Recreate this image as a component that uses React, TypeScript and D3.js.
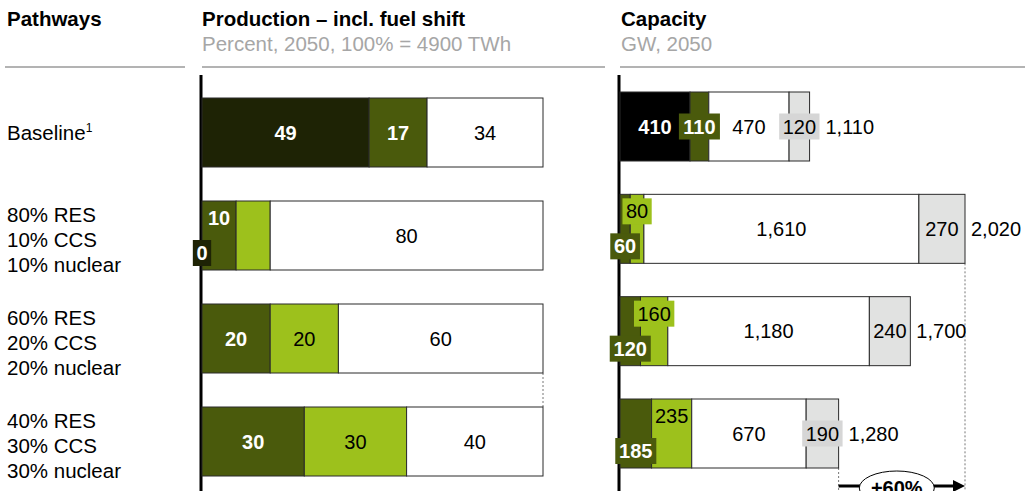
import React from "react";
import * as d3 from "d3";

// ---------- data ----------
const pathways: string[][] = [
  ["Baseline"],
  ["80% RES", "10% CCS", "10% nuclear"],
  ["60% RES", "20% CCS", "20% nuclear"],
  ["40% RES", "30% CCS", "30% nuclear"],
];

// Production, percent of 4900 TWh
const prodFossil: (number | null)[] = [49, 0, null, null];
const prodDarkGreen: (number | null)[] = [17, 10, 20, 30];
const prodLime: (number | null)[] = [null, 10, 20, 30];
const prodWhite: (number | null)[] = [34, 80, 60, 40];
const prodLimeLabelShown: boolean[] = [false, false, true, true];

// Capacity, GW
const capFossil: number[] = [410, 0, 0, 0];
const capDarkGreen: number[] = [110, 60, 120, 185];
const capLime: number[] = [0, 80, 160, 235];
const capWhite: number[] = [470, 1610, 1180, 670];
const capGray: number[] = [120, 270, 240, 190];
const capTotal: number[] = [1110, 2020, 1700, 1280];
const growthLabel = "+60%";

const titles = {
  pathways: "Pathways",
  production: "Production – incl. fuel shift",
  productionSub: "Percent, 2050, 100% = 4900 TWh",
  capacity: "Capacity",
  capacitySub: "GW, 2050",
};

// ---------- style ----------
const FONT = "'Liberation Sans', Arial, Helvetica, sans-serif";
const FS = 20;
const C = {
  fossilProd: "#1e2305",
  fossilCap: "#000000",
  dark: "#4a5a0c",
  lime: "#9dc11c",
  white: "#ffffff",
  gray: "#e1e2e1",
  grayBox: "#d6d6d6",
  stroke: "#2a2a2a",
  rule: "#b3b3b3",
  sub: "#a6a6a6",
};

const fmt = d3.format(",");
const textW = (s: string, bold: boolean) => {
  let w = 0;
  for (const ch of s) w += ch === "," ? 0.278 : ch === "%" ? 0.889 : 0.556;
  return w * FS * (bold ? 1.02 : 1);
};

type Seg = {
  key: string;
  v: number;
  fill: string;
  label: string;
  bold: boolean;
  textFill: string;
  box: string;
  show: boolean;
};

type Placed = { s: Seg; x0: number; x1: number; cx: number; cy: number; needBox: boolean; bw: number };

export default function App() {
  const W = 1027;
  const H = 491;
  const xProd = d3.scaleLinear().domain([0, 100]).range([202, 543]);
  const xCap = d3.scaleLinear().domain([0, 2020]).range([620, 965]);
  const yProd = d3.scaleLinear().domain([0, 3]).range([98, 407]);
  const yCap = d3.scaleLinear().domain([0, 3]).range([92, 399]);
  const bh = 69;
  const rows = d3.range(pathways.length);

  const prodRows: Seg[][] = rows.map((i) => {
    const segs: Seg[] = [];
    if (prodFossil[i] !== null)
      segs.push({ key: "fossil", v: prodFossil[i] as number, fill: C.fossilProd, label: String(prodFossil[i]), bold: true, textFill: "#fff", box: C.fossilProd, show: true });
    if (prodDarkGreen[i] !== null)
      segs.push({ key: "dark", v: prodDarkGreen[i] as number, fill: C.dark, label: String(prodDarkGreen[i]), bold: true, textFill: "#fff", box: C.dark, show: true });
    if (prodLime[i] !== null)
      segs.push({ key: "lime", v: prodLime[i] as number, fill: C.lime, label: String(prodLime[i]), bold: false, textFill: "#000", box: C.lime, show: prodLimeLabelShown[i] });
    if (prodWhite[i] !== null)
      segs.push({ key: "white", v: prodWhite[i] as number, fill: C.white, label: String(prodWhite[i]), bold: false, textFill: "#000", box: C.white, show: true });
    return segs;
  });

  const capRows: Seg[][] = rows.map((i) => {
    const segs: Seg[] = [];
    if (capFossil[i] > 0)
      segs.push({ key: "fossil", v: capFossil[i], fill: C.fossilCap, label: fmt(capFossil[i]), bold: true, textFill: "#fff", box: C.fossilCap, show: true });
    segs.push({ key: "dark", v: capDarkGreen[i], fill: C.dark, label: fmt(capDarkGreen[i]), bold: true, textFill: "#fff", box: C.dark, show: capDarkGreen[i] > 0 });
    segs.push({ key: "lime", v: capLime[i], fill: C.lime, label: fmt(capLime[i]), bold: false, textFill: "#000", box: C.lime, show: capLime[i] > 0 });
    segs.push({ key: "white", v: capWhite[i], fill: C.white, label: fmt(capWhite[i]), bold: false, textFill: "#000", box: C.white, show: true });
    segs.push({ key: "gray", v: capGray[i], fill: C.gray, label: fmt(capGray[i]), bold: false, textFill: "#000", box: C.grayBox, show: true });
    return segs;
  });

  const place = (
    segs: Seg[],
    x: d3.ScaleLinear<number, number>,
    top: number,
    stagger: (s: Seg) => "top" | "bottom" | "mid"
  ): Placed[] => {
    let acc = 0;
    return segs.map((s) => {
      const x0 = x(acc);
      acc += s.v;
      const x1 = x(acc);
      const pos = stagger(s);
      const cy = pos === "top" ? top + 17 : pos === "bottom" ? top + 52 : top + bh / 2;
      const tw = textW(s.label, s.bold);
      return { s, x0, x1, cx: (x0 + x1) / 2, cy, needBox: s.show && tw + 4 > x1 - x0, bw: tw + 7 };
    });
  };

  const renderBar = (placed: Placed[], top: number, keyPrefix: string) => (
    <g key={keyPrefix}>
      {placed.map(({ s, x0, x1 }) =>
        s.v > 0 ? (
          <rect key={"r" + s.key} x={x0} y={top} width={x1 - x0} height={bh} fill={s.fill} stroke={C.stroke} strokeWidth={1} />
        ) : null
      )}
      {placed.map(({ s, cx, cy, needBox, bw }) =>
        s.show ? (
          <g key={"l" + s.key}>
            {needBox && <rect x={cx - bw / 2} y={cy - 13} width={bw} height={26} fill={s.box} />}
            <text x={cx} y={cy + 7} textAnchor="middle" fontSize={FS} fontWeight={s.bold ? "bold" : "normal"} fill={s.textFill}>
              {s.label}
            </text>
          </g>
        ) : null
      )}
    </g>
  );

  const arrowY = 486;
  const xa = xCap(capTotal[3]);
  const xb = xCap(capTotal[1]);
  const ex = (xa + xb - 10) / 2;

  return (
    <svg width={W} height={H} style={{ position: "absolute", left: 0, top: 0, background: "#fff" }} fontFamily={FONT}>
      {/* headers */}
      <text x={7} y={26} fontSize={20.5} fontWeight="bold">{titles.pathways}</text>
      <text x={202} y={26} fontSize={20.5} fontWeight="bold">{titles.production}</text>
      <text x={202} y={51} fontSize={20.5} fill={C.sub}>{titles.productionSub}</text>
      <text x={621} y={26} fontSize={20.5} fontWeight="bold">{titles.capacity}</text>
      <text x={621} y={51} fontSize={20.5} fill={C.sub}>{titles.capacitySub}</text>
      <line x1={5} x2={185} y1={67} y2={67} stroke={C.rule} strokeWidth={2} />
      <line x1={202} x2={605} y1={67} y2={67} stroke={C.rule} strokeWidth={2} />
      <line x1={620} x2={1025} y1={67} y2={67} stroke={C.rule} strokeWidth={2} />

      {/* pathway labels */}
      {rows.map((i) => {
        const center = yProd(i) + bh / 2 + (pathways[i].length > 1 ? 4 : 0);
        const n = pathways[i].length;
        return (
          <g key={"pl" + i}>
            {pathways[i].map((line, j) => (
              <text key={j} x={7} y={center + (j - (n - 1) / 2) * 25 + 7} fontSize={20.5}>
                {line}
                {i === 0 && <tspan fontSize={12} dy={-8}>1</tspan>}
              </text>
            ))}
          </g>
        );
      })}

      {/* axes (behind the label boxes) */}
      <line x1={201} x2={201} y1={75} y2={H} stroke="#000" strokeWidth={3} />
      <line x1={619} x2={619} y1={75} y2={H} stroke="#000" strokeWidth={3} />

      {/* production dotted connector */}
      <line x1={xProd(100)} x2={xProd(100)} y1={yProd(2) + bh} y2={yProd(3)} stroke="#777" strokeDasharray="2,2" strokeWidth={1} />

      {/* production bars */}
      {rows.map((i) => {
        const hasZero = prodRows[i].some((s) => s.v === 0 && s.show);
        const placed = place(prodRows[i], xProd, yProd(i), (s) =>
          hasZero ? (s.v === 0 ? "bottom" : s.key === "dark" ? "top" : "mid") : "mid"
        );
        return renderBar(placed, yProd(i), "p" + i);
      })}

      {/* capacity dotted guides */}
      <line x1={xb} x2={xb} y1={yCap(1) + bh} y2={H} stroke="#777" strokeDasharray="2,2" strokeWidth={1} />
      <line x1={xa} x2={xa} y1={yCap(3) + bh} y2={H} stroke="#777" strokeDasharray="2,2" strokeWidth={1} />

      {/* capacity bars */}
      {rows.map((i) => {
        const stagger = capDarkGreen[i] > 0 && capLime[i] > 0;
        const placed = place(capRows[i], xCap, yCap(i), (s) =>
          stagger ? (s.key === "dark" ? "bottom" : s.key === "lime" ? "top" : "mid") : "mid"
        );
        const last = placed[placed.length - 1];
        const rightEdge = Math.max(xCap(capTotal[i]), last.needBox ? last.cx + last.bw / 2 : 0);
        return (
          <g key={"cg" + i}>
            {renderBar(placed, yCap(i), "c" + i)}
            <text x={rightEdge + 6} y={yCap(i) + bh / 2 + 7} fontSize={FS}>
              {fmt(capTotal[i])}
            </text>
          </g>
        );
      })}

      {/* growth arrow */}
      <line x1={xa} x2={xb - 10} y1={arrowY} y2={arrowY} stroke="#000" strokeWidth={3} />
      <path d={`M${xb - 12},${arrowY - 6} L${xb},${arrowY} L${xb - 12},${arrowY + 6} Z`} fill="#000" />
      <ellipse cx={ex} cy={arrowY + 2} rx={37.5} ry={17} fill="#fff" stroke="#000" strokeWidth={1} />
      <text x={ex} y={arrowY + 9} textAnchor="middle" fontSize={FS} fontWeight="bold">{growthLabel}</text>
    </svg>
  );
}
